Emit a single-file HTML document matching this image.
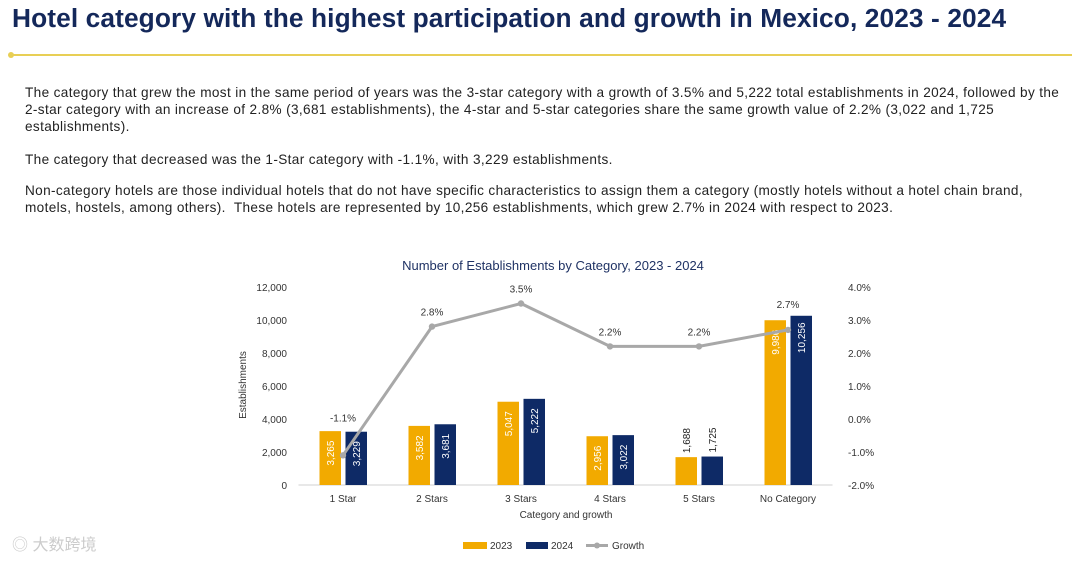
<!DOCTYPE html>
<html><head><meta charset="utf-8"><style>
body{margin:0;width:1080px;height:563px;background:#fff;font-family:"Liberation Sans",Arial,sans-serif;overflow:hidden;position:relative}
h1{position:absolute;left:12px;top:3px;margin:0;font-size:26.3px;font-weight:bold;color:#14285a;letter-spacing:0.1px;white-space:nowrap}
.rule{position:absolute;left:10px;top:54px;width:1062px;height:2px;background:#e8cf55}
.dot{position:absolute;left:8px;top:52px;width:6px;height:6px;border-radius:3px;background:#e8cf55}
p{position:absolute;left:25px;margin:0;font-size:13.6px;letter-spacing:0.36px;line-height:17.2px;color:#222;width:1045px}
</style></head><body>
<h1>Hotel category with the highest participation and growth in Mexico, 2023 - 2024</h1>
<div class="rule"></div><div class="dot"></div>
<p style="top:84px">The category that grew the most in the same period of years was the 3-star category with a growth of 3.5% and 5,222 total establishments in 2024, followed by the 2-star category with an increase of 2.8% (3,681 establishments), the 4-star and 5-star categories share the same growth value of 2.2% (3,022 and 1,725 establishments).</p>
<p style="top:151px">The category that decreased was the 1-Star category with -1.1%, with 3,229 establishments.</p>
<p style="top:182px">Non-category hotels are those individual hotels that do not have specific characteristics to assign them a category (mostly hotels without a hotel chain brand, motels, hostels, among others).&nbsp; These hotels are represented by 10,256 establishments, which grew 2.7% in 2024 with respect to 2023.</p>
<svg id="chart" width="1080" height="563" style="position:absolute;left:0;top:0"></svg>
<script>
const categories=["1 Star","2 Stars","3 Stars","4 Stars","5 Stars","No Category"];
const values2023=[3265,3582,5047,2956,1688,9986];
const values2024=[3229,3681,5222,3022,1725,10256];
const growth=[-1.1,2.8,3.5,2.2,2.2,2.7];
const leftTicks=[0,2000,4000,6000,8000,10000,12000];
const rightTicks=[-2,-1,0,1,2,3,4];
const svg=document.getElementById('chart');const NS='http://www.w3.org/2000/svg';
function el(t,a,txt){const e=document.createElementNS(NS,t);for(const k in a)e.setAttribute(k,a[k]);if(txt!==undefined)e.textContent=txt;svg.appendChild(e);return e;}
const y0=485,yTop=287,left=298.5,step=89;
const yL=v=>y0-(v/12000)*(y0-yTop);
const yR=v=>y0-((v+2)/6)*(y0-yTop);
const xC=i=>left+step*(i+0.5);
const fmt=v=>v.toLocaleString('en-US');
let t=el('text',{x:553,y:270,'font-size':13,fill:'#1f3264','text-anchor':'middle'},'Number of Establishments by Category, 2023 - 2024');

leftTicks.forEach(v=>{const e=el('text',{x:287,y:yL(v)+4,'font-size':10,fill:'#333','text-anchor':'end'},fmt(v));});
rightTicks.forEach(v=>{const e=el('text',{x:848,y:yR(v)+4,'font-size':10,fill:'#333'},v.toFixed(1)+'%');});
t=el('text',{x:0,y:0,'font-size':10,fill:'#333','text-anchor':'middle',transform:'translate(246,385) rotate(-90)'},'Establishments');

const ax=el('line',{x1:left,x2:left+step*6,y1:y0,y2:y0,stroke:'#d0d0d0'});
categories.forEach((c,i)=>{
 const cx=xC(i);
 [[values2023[i],cx-26,'#f2aa00','bar-2023'],[values2024[i],cx,'#0e2a66','bar-2024']].forEach(([v,x,col,nm])=>{
  const bx=x+2.5,w=21.5,yy=yL(v);
  const r=el('rect',{x:bx,y:yy,width:w,height:y0-yy,fill:col});
  const mx=bx+w/2;let lab;
  if(y0-yy>45){lab=el('text',{x:0,y:0,'font-size':10,fill:'#fff','text-anchor':'middle',transform:`translate(${mx+3.5},${yy+22}) rotate(-90)`},fmt(v));}
  else{lab=el('text',{x:0,y:0,'font-size':10,fill:'#222','text-anchor':'start',transform:`translate(${mx+3.5},${yy-4}) rotate(-90)`},fmt(v));}
  
 });
 const xl=el('text',{x:cx,y:502,'font-size':10,fill:'#333','text-anchor':'middle'},c);
});
const pts=growth.map((g,i)=>[xC(i),yR(g)]);
const pl=el('polyline',{points:pts.map(p=>p.join(',')).join(' '),fill:'none',stroke:'#a8a8a8','stroke-width':3});

pts.forEach((p,i)=>{const c=el('circle',{cx:p[0],cy:p[1],r:3.2,fill:'#a8a8a8'});
 const ly=i===0?yL(values2024[0])-10:(i===5?yL(values2024[5])-8:p[1]-11);
 const l=el('text',{x:p[0],y:ly,'font-size':10,fill:'#333','text-anchor':'middle'},growth[i].toFixed(1)+'%');});
t=el('text',{x:566,y:518,'font-size':10,fill:'#333','text-anchor':'middle'},'Category and growth');
let g=el('rect',{x:463,y:542,width:24,height:7,fill:'#f2aa00'});
g=el('text',{x:490,y:549,'font-size':10,fill:'#333'},'2023');
g=el('rect',{x:526,y:542,width:22,height:7,fill:'#0e2a66'});
g=el('text',{x:551,y:549,'font-size':10,fill:'#333'},'2024');
g=el('line',{x1:586,x2:608,y1:545.5,y2:545.5,stroke:'#a8a8a8','stroke-width':3});
g=el('circle',{cx:597,cy:545.5,r:3,fill:'#a8a8a8'});
g=el('text',{x:612,y:549,'font-size':10,fill:'#333'},'Growth');
g=el('text',{x:12,y:550,'font-size':16,fill:'#ccc','font-family':'Liberation Sans, Noto Sans CJK SC, sans-serif'},'◎ 大数跨境');
</script>
</body></html>
